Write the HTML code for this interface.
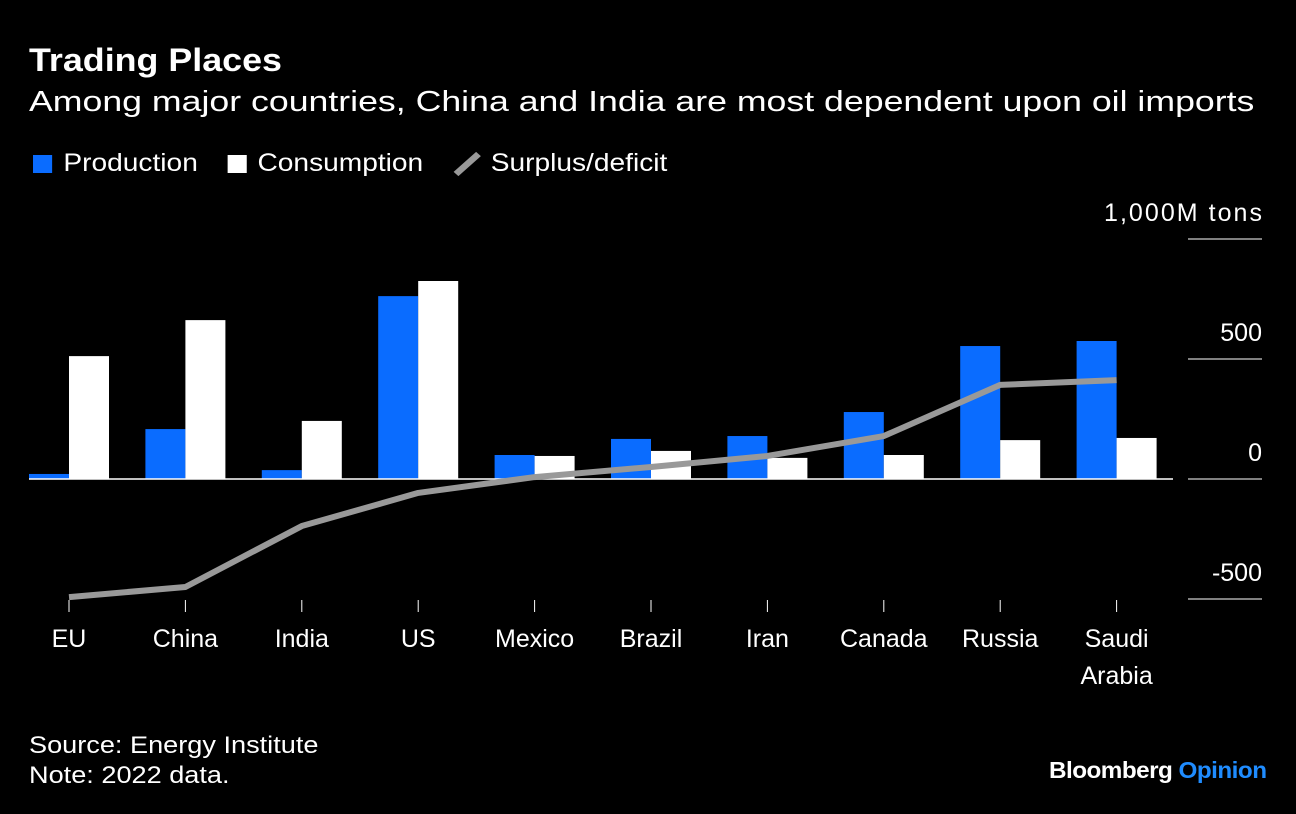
<!DOCTYPE html>
<html><head><meta charset="utf-8"><style>
body{margin:0;background:#000;width:1296px;height:814px;overflow:hidden;font-family:"Liberation Sans",sans-serif;color:#fff}
.t{position:absolute;white-space:nowrap;transform-origin:0 0}
</style></head><body>
<div class="t" style="left:29px;top:42px;font-size:32px;font-weight:bold;transform:scaleX(1.12)">Trading Places</div>
<div class="t" style="left:29px;top:86px;font-size:29px;transform:scaleX(1.23)">Among major countries, China and India are most dependent upon oil imports</div>
<div class="t" style="left:33px;top:149px;font-size:25px;display:flex;align-items:center;transform:scaleX(1.125)">
<span style="width:17px;height:18px;background:#0a6cff;display:inline-block;margin-right:10px"></span><span style="margin-right:26px">Production</span>
<span style="width:17px;height:18px;background:#fff;display:inline-block;margin-right:10px"></span><span style="margin-right:26px">Consumption</span>
<svg width="26" height="26" style="margin-right:8px"><line x1="3" y1="23" x2="23" y2="3" stroke="#999" stroke-width="6"/></svg><span>Surplus/deficit</span></div>
<svg id="c" width="1296" height="814" style="position:absolute;left:0;top:0"></svg>
<div class="t" style="left:29px;top:731px;font-size:24px;line-height:30px;transform:scaleX(1.13)">Source: Energy Institute<br>Note: 2022 data.</div>
<div class="t" style="left:1049px;top:757px;font-size:23px;font-weight:bold;letter-spacing:-0.5px;transform:scaleX(1.055)">Bloomberg <span style="color:#1f8cff">Opinion</span></div>
<script>
const categories=["EU","China","India","US","Mexico","Brazil","Iran","Canada","Russia","Saudi Arabia"];
const production=[21,208,37,762,100,167,179,279,554,575];
const consumption=[512,662,242,825,96,117,88,100,162,171];
const surplus=[-492,-450,-196,-58,8,50,96,179,392,412];
const ticks=[1000,500,0,-500];
const tickLabels=["1,000M tons","500","0","-500"];
const svg=document.getElementById('c');const NS="http://www.w3.org/2000/svg";
function y(v){return 479-v*0.24;}
function x(i){return 69+i*116.4;}
function mk(t,a){const e=document.createElementNS(NS,t);for(const k in a)e.setAttribute(k,a[k]);svg.appendChild(e);return e;}
ticks.forEach((t,i)=>{
 const g=mk('line',{x1:1188,x2:1262,y1:y(t),y2:y(t),stroke:'#fff','stroke-width':1});
 
 
 const l=mk('text',{x:1262,y:y(t)-18,'text-anchor':'end',fill:'#fff','font-size':25,'font-family':'Liberation Sans'});
 l.textContent=tickLabels[i];
 if(i===0)l.setAttribute('textLength',158);
 
 
});
categories.forEach((c,i)=>{
 const b=mk('rect',{x:x(i)-40,y:Math.min(y(production[i]),y(0)),width:40,height:Math.abs(production[i])*0.24,fill:'#0a6cff'});
 
 
 const w=mk('rect',{x:x(i),y:Math.min(y(consumption[i]),y(0)),width:40,height:Math.abs(consumption[i])*0.24,fill:'#fff'});
 
 
 const tk=mk('line',{x1:x(i),x2:x(i),y1:600,y2:612,stroke:'#fff','stroke-width':1});
 
 
 const parts=c==="Saudi Arabia"?["Saudi","Arabia"]:[c];
 parts.forEach((p,j)=>{const t=mk('text',{x:x(i),y:647+j*37,'text-anchor':'middle',fill:'#fff','font-size':25,'font-family':'Liberation Sans'});t.textContent=p;
 
 });
});
const z=mk('line',{x1:29,x2:1173,y1:y(0),y2:y(0),stroke:'#fff','stroke-width':1.5});


const z2=mk('line',{x1:1188,x2:1262,y1:y(0),y2:y(0),stroke:'#fff','stroke-width':1});


const ln=mk('polyline',{points:surplus.map((v,i)=>x(i)+','+y(v)).join(' '),fill:'none',stroke:'#999','stroke-width':6,'stroke-linejoin':'round'});


</script>
</body></html>
